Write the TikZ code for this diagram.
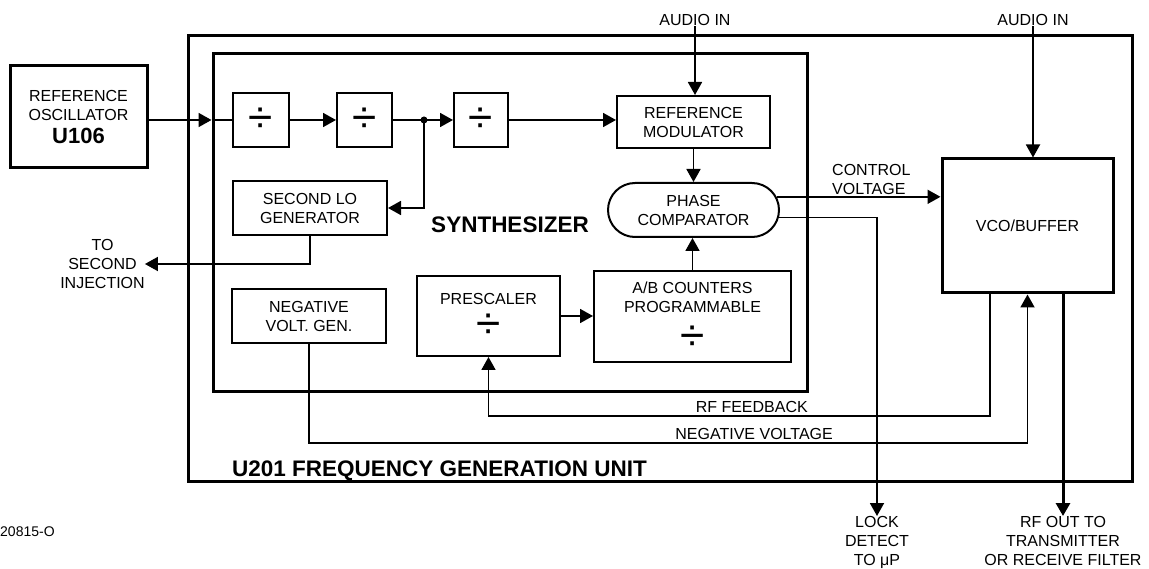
\documentclass[tikz,border=0pt]{standalone}
\usepackage{fontspec}
\setmainfont{Liberation Sans}
\usetikzlibrary{arrows.meta,shapes.misc,calc}
\newcommand\dv{{\fontsize{44}{44}\selectfont ÷}}
\tikzset{
  lbl/.style={font=\fontsize{16}{19}\selectfont, align=center, inner sep=0pt},
  blk/.style={draw, line width=2pt, inner sep=0pt, align=center, font=\fontsize{16}{19}\selectfont},
  thk/.style={blk, line width=3pt},
  wire/.style={line width=1.8pt},
  arr/.style={wire, -{Triangle[length=13pt,width=14pt]}},
  frm/.style={draw, line width=3pt, inner sep=0pt},
  ttl/.style={font=\fontsize{22.5}{26}\selectfont\bfseries, inner sep=0pt},
}
\begin{document}
\begin{tikzpicture}[x=1pt,y=-1pt]
\useasboundingbox (0,0) rectangle (1149,569);
% frames
\node[frm, minimum width=944, minimum height=445] (fgu) at (660,258.5) {};
\node[frm, minimum width=594, minimum height=337] (synth) at (510,222.5) {};
% blocks
\node[thk, minimum width=137, minimum height=102] (refosc) at (78.5,117)
  {REFERENCE\\OSCILLATOR\\[4pt]{\fontsize{22}{22}\selectfont\bfseries U106}};
\node[blk, minimum width=56, minimum height=54] (div1) at (261,120) {\dv};
\node[blk, minimum width=55, minimum height=54] (div2) at (364.5,120) {\dv};
\coordinate (jn) at (424,120);
\node[blk, minimum width=54, minimum height=54] (div3) at (481,120) {\dv};
\node[blk, minimum width=153, minimum height=52] (refmod) at (693.5,122) {REFERENCE\\MODULATOR};
\node[blk, rounded rectangle, minimum width=171, minimum height=54] (phase) at (693.5,210) {PHASE\\COMPARATOR};
\node[blk, minimum width=154, minimum height=54] (seclo) at (310,208) {SECOND LO\\GENERATOR};
\node[blk, minimum width=154, minimum height=54] (negv) at (309,316) {NEGATIVE\\VOLT. GEN.};
\node[blk, minimum width=143, minimum height=80] (presc) at (488.5,316) {PRESCALER\\[9pt]\dv};
\node[blk, minimum width=197, minimum height=91] (abc) at (692.5,316.5) {A/B COUNTERS\\PROGRAMMABLE\\[12pt]\dv};
\node[thk, minimum width=171, minimum height=134] (vco) at (1027.5,226) {VCO/BUFFER};
% labels
\node[lbl] (ain1) at (695,20) {AUDIO IN};
\node[lbl] (ain2) at (1033,20) {AUDIO IN};
\node[lbl] (toinj) at (102.5,264) {TO\\SECOND\\INJECTION};
\node[lbl, anchor=north] (lock) at (877,516) {LOCK\\DETECT\\TO μP};
\node[lbl, anchor=north] (rfout) at (1063,516) {RF OUT TO\\TRANSMITTER\\OR RECEIVE FILTER};
\node[lbl, align=left, anchor=west] (cvl) at (832,179) {CONTROL\\VOLTAGE};
\node[lbl, anchor=east] (rffb) at (808,407) {RF FEEDBACK};
\node[lbl, anchor=east] (nvl) at (833,434) {NEGATIVE VOLTAGE};
\node[ttl] (synl) at (510,225) {SYNTHESIZER};
\node[ttl, anchor=base west] (fgul) at (232,476) {U201 FREQUENCY GENERATION UNIT};
\node[lbl, font=\fontsize{14}{16}\selectfont, anchor=west] (fig) at (0,532) {20815-O};
\coordinate (fbrow) at (0,416);
\coordinate (nvrow) at (0,443);
% connectors
\draw[arr] (refosc.east |- div1) -- (synth.west |- div1);
\draw[wire] (synth.west |- div1) -- (div1.west);
\draw[arr] (div1.east) -- (div2.west);
\draw[wire] (div2.east) -- (jn);
\fill (jn) circle (3.5);
\draw[arr] (jn) -- (div3.west);
\draw[arr] (div3.east) -- (div3.east -| refmod.west);
\draw[arr] (jn) |- (seclo.east);
\draw[arr] (seclo.south) |- (toinj.east);
\draw[arr] (ain1.south) -- (ain1.south |- refmod.north);
\draw[arr] (refmod.south) -- (phase.north);
\draw[arr] (abc.north) -- (abc.north |- phase.south);
\draw[arr] (presc.east) -- (presc.east -| abc.west);
\draw[arr] (phase.9) -- (phase.9 -| vco.west);
\draw[arr] (phase.-5) -| (lock.north);
\draw[arr] (ain2.south) -- (ain2.south |- vco.north);
\draw[arr] ([xshift=-37.5]vco.south) -- ([xshift=-37.5]vco.south |- fbrow) -| (presc.south);
\draw[arr] (negv.south) -- (negv.south |- nvrow) -| (vco.south);
\draw[arr, line width=3pt] ([xshift=35.5]vco.south) -- (rfout.north);
\end{tikzpicture}
\end{document}
